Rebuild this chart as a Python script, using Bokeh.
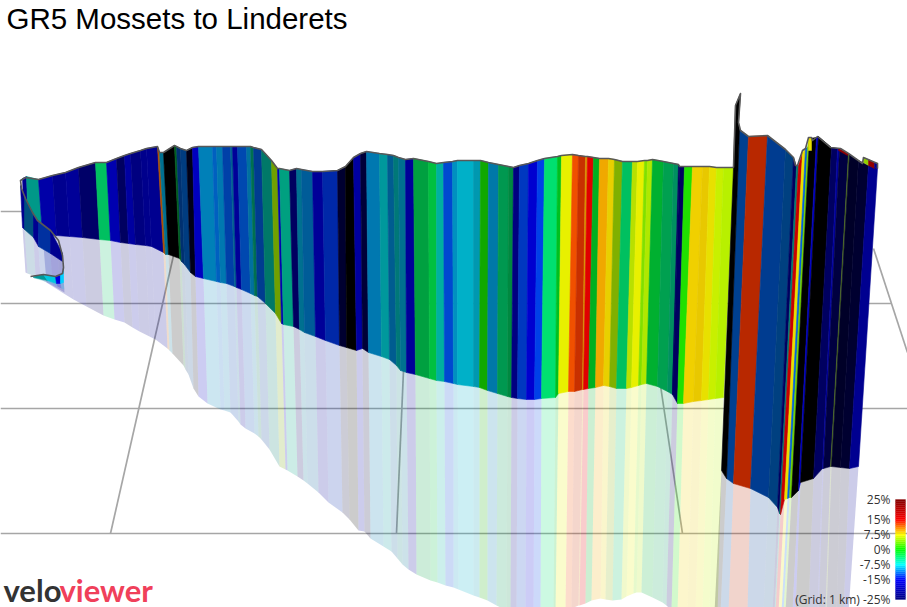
from bokeh.plotting import figure
from bokeh.embed import file_html
from bokeh.resources import INLINE
from bokeh.models import Range1d
from bokeh.core.properties import value
import numpy as np

TITLE = "GR5 Mossets to Linderets"
scale_values = [25, 15, 7.5, 0, -7.5, -15, -25]
scale_labels = ["25%", "15%", "7.5%", "0%", "-7.5%", "-15%", "-25%"]
scale_colors = [(128,0,0), (255,0,0), (255,255,0), (0,255,0), (0,255,255), (0,0,255), (0,0,128)]

# main ribbon: one entry per strip edge (projected screen position)
top_x = [38,52,65,78,95,106,116,124,130,140,146,157,159,163,174,176,180,186,192,198,212,216,222,230,232,237,246,250,253,261,271,277,279,289,296,301,312,322,337,345,353,360,366,379,387,393,398,405,413,428,436,443,452,457,473,480,488,498,508,513,519,528,537,544,557,561,572,578,585,587,593,599,608,614,622,632,637,644,647,652,663,673,678,679,684,692,702,709,716,723,733]
top_y = [179,175,172,167,162,162,158,155,153,150,148,146,152,152,145,146,148,150,147,146,146,146,146,146,146,146,146,146,147,149,160,168,168,170,168,169,171,171,170,166,157,153,151,153,154,155,157,159,158,161,163,162,161,160,160,160,162,164,166,167,165,163,160,158,156,155,154,155,156,156,157,158,158,159,161,161,161,160,160,159,161,163,164,166,166,166,166,166,167,167,167]
base_x = [42,56,69,82,99,110,120,128,135,145,151,163,165,168,179,181,184,190,195,203,216,220,226,234,236,241,250,254,257,265,275,281,283,293,299,304,315,325,339,346,356,362,368,381,389,396,400,406,415,429,436,444,453,457,473,479,487,497,507,511,517,526,534,541,555,558,568,574,582,583,588,595,603,609,616,626,631,638,641,646,657,667,672,672,677,683,693,701,708,715,723]
base_y = [234,235,236,237,239,240,242,243,244,245,246,252,254,254,258,261,264,272,276,278,281,282,283,286,287,289,293,295,296,303,313,323,324,326,329,332,336,340,345,347,350,348,352,356,359,365,370,372,374,378,380,381,383,384,386,387,390,393,396,397,398,399,399,398,397,393,391,391,389,389,388,387,385,386,388,388,387,385,384,383,386,391,394,394,403,403,401,400,399,398,397]
shade_x = [46,60,73,86,103,114,124,132,139,149,155,167,169,172,183,185,188,193,198,207,220,224,230,238,240,245,254,258,261,269,279,285,287,297,303,307,318,328,342,349,358,364,370,383,391,397,402,408,416,430,437,445,453,458,473,479,487,496,506,510,516,525,533,540,553,555,565,571,578,579,585,591,600,605,612,621,626,633,636,641,652,662,666,666,671,677,687,695,702,709,717]
shade_y = [282,291,299,306,315,319,322,327,331,336,339,348,350,353,365,369,374,388,396,403,409,410,412,421,424,428,433,436,439,449,466,469,470,476,480,483,492,502,512,519,530,531,538,546,551,558,564,569,574,580,582,585,587,589,595,597,600,605,610,612,615,618,618,617,615,614,610,608,605,605,603,600,598,599,600,599,596,593,592,592,597,602,605,605,610,612,612,612,612,612,612]
strip_colors = ["#0000a8","#00008f","#000098","#000068","#00c060","#0000b0","#000060","#0000a0","#000080","#00008c","#000090","#b05000","#007090","#000000","#006020","#003070","#003c80","#000018","#0000c0","#0080b8","#0060c0","#0078b0","#0040a8","#006090","#000098","#0048b0","#0070a0","#007050","#003c90","#007868","#70a000","#0000b0","#00a080","#000060","#007090","#005c98","#000098","#0028a8","#000030","#000000","#0000a0","#000038","#0078b0","#00989c","#005c90","#007878","#007090","#000098","#00a040","#00c040","#00b0a0","#0048d0","#0090c0","#00b0c8","#0098b0","#10a800","#0078a8","#009850","#008840","#000080","#0038c0","#0000d0","#0040e8","#00e070","#00c020","#e8f000","#f05000","#c83000","#d89000","#e00000","#00b020","#f0a800","#e8d000","#80b000","#00c060","#b8e000","#e8f000","#80e000","#b0e800","#00b030","#00a050","#009060","#000060","#000060","#20e000","#f0d000","#e8c800","#e8e000","#c8f000","#b8f000"]

# steep final section
right_top_x = [739,748,767,785,793,796,798,802,805,807,809,816,818,831,837,839,848,849,858,868,877]
right_top_y = [129,136,135,149,157,166,165,152,148,147,138,137,136,147,148,149,153,154,160,165,168]
right_base_x = [726,733,750,768,777,779,780,784,787,789,791,798,800,813,822,823,830,831,840,849,858]
right_base_y = [478,483,488,497,507,513,514,499,498,497,497,490,482,478,468,468,466,466,467,468,466]
right_shade_x = [720,728,747,763,772,774,775,778,781,783,785,792,795,808,817,818,825,826,836,843,848]
right_shade_y = [612]*21
right_colors = ["#004090","#b82800","#003c90","#004080","#000060","#008070","#c80000","#e8e000","#0060e0","#70d000","#000000","#0000c0","#000000","#000060","#0000a0","#000040","#507020","#000028","#000030","#000090"]

# spike where the road doubles back
spike_x = [733,735,740,738,739,726,721]
spike_y = [167,105,93,122,129,478,470]
spike_shade_x = [721,726,720,714]
spike_shade_y = [470,478,612,612]

# back of the start loop
back_top_x = [22,26,38]
back_top_y = [178,176,179]
back_base_x = [24,28,42]
back_base_y = [228,229,234]
back_colors = ["#000090","#009888"]

# front of the start loop
curl_top_x = [20,24,33,38,50,62]
curl_top_y = [185,196,214,221,230,253]
curl_base_x = [22,24,33,38,50,62]
curl_base_y = [227,229,237,246,253,261]
curl_shade_x = [25,27,35,40,52,64]
curl_shade_y = [272,273,276,279,285,292]
curl_colors = ["#000090","#005080","#000090","#0030a0","#000090"]

# first metres of the ride
start_top_x = [33,43,55,60,63]
start_top_y = [276,274,276,275,270]
start_base_x = [33,47,56,60,63]
start_base_y = [277,280,283,283,282]
start_shade_x = [34,48,57,61,64]
start_shade_y = [278,282,286,288,289]
start_colors = ["#009898","#00c8e0","#0000e0","#00d0ff"]

# small pieces of ribbon showing above the wall
ridge_xs = [[808,811,811,808],[838,848,847,838],[863,868,868,863],[868,874,874,868],[874,877,877,874]]
ridge_ys = [[137,137,150,150],[148,153,155,150],[157,159,165,162],[159,162,168,165],[162,163,168,167]]
ridge_colors = ["#e8e000","#900000","#90d000","#900000","#000090"]

# outline
loop_line_x = [30,43,55,62,63,62,58,50,37,32,25,21,20,25,38]
loop_line_y = [276,274,276,273,267,255,240,230,220,212,198,188,180,177,179]
right_line_x = [733,735,740,738,740,748,767,785,793,795,797,802,805,808,811,812,817,830,840,848,862,863,877,877]
right_line_y = [167,105,93,122,130,136,135,149,157,165,165,150,148,137,137,140,136,147,148,153,163,157,163,168]

# ground grid
grid_xs = [[0,24],[0,891],[0,907],[0,907],[173,110],[403,396],[660,682],[873,907]]
grid_ys = [[211,211],[303,303],[408,408],[533,533],[255,533],[370,533],[385,533],[248,352]]

p = figure(width=907, height=607, output_backend="svg", toolbar_location=None,
           x_range=Range1d(0, 907), y_range=Range1d(607, 0),
           min_border=0, outline_line_color=None)
p.axis.visible = False
p.grid.visible = False
p.background_fill_color = "#ffffff"

p.multi_line(grid_xs, grid_ys, line_color="#a6a6a6", line_width=1.7)

def quads(ax, ay, bx, by):
    xs, ys = [], []
    for i in range(len(ax) - 1):
        xs.append([ax[i], ax[i+1], bx[i+1], bx[i]])
        ys.append([ay[i], ay[i+1], by[i+1], by[i]])
    return xs, ys

def wall(ax, ay, bx, by, cols):
    xs, ys = quads(ax, ay, bx, by)
    p.patches(xs, ys, fill_color=cols, line_color=cols, line_width=0.6)

def shade(ax, ay, bx, by, cols):
    xs, ys = quads(ax, ay, bx, by)
    p.patches(xs, ys, fill_color=cols, fill_alpha=0.2, line_color=None)

shade(base_x, base_y, shade_x, shade_y, strip_colors)
shade(right_base_x, right_base_y, right_shade_x, right_shade_y, right_colors)
p.patch(spike_shade_x, spike_shade_y, fill_color="#000000", fill_alpha=0.2, line_color=None)
shade(curl_base_x, curl_base_y, curl_shade_x, curl_shade_y, curl_colors)
shade(start_base_x, start_base_y, start_shade_x, start_shade_y, start_colors)

wall(back_top_x, back_top_y, back_base_x, back_base_y, back_colors)
wall(top_x, top_y, base_x, base_y, strip_colors)
wall(right_top_x, right_top_y, right_base_x, right_base_y, right_colors)
p.patch(spike_x, spike_y, fill_color="#000000", line_color="#000000", line_width=0.6)
p.patches(ridge_xs, ridge_ys, fill_color=ridge_colors, line_color=ridge_colors, line_width=0.5)
wall(curl_top_x, curl_top_y, curl_base_x, curl_base_y, curl_colors)
wall(start_top_x, start_top_y, start_base_x, start_base_y, start_colors)

line_col = "#585858"
p.line(loop_line_x + top_x[1:], loop_line_y + top_y[1:], line_color=line_col, line_width=1.6, line_join="round")
p.line(right_line_x, right_line_y, line_color=line_col, line_width=1.6, line_join="round")

# title
p.text([6], [18], text=[TITLE], text_font=value("Liberation Sans"), text_font_size="29.5px",
       text_color="#000000", text_baseline="middle")

# colour scale
def scale_y(v):
    return 549 - 2 * np.asarray(v, dtype=float)

bar_v = np.arange(-25, 25, 1.0)
rv = scale_values[::-1]
rc = scale_colors[::-1]
bar_cols = []
for v in bar_v + 0.5:
    c = [int(np.interp(v, rv, [k[j] for k in rc])) for j in range(3)]
    bar_cols.append("#%02x%02x%02x" % tuple(c))
p.quad(left=895, right=905, top=scale_y(bar_v + 1), bottom=scale_y(bar_v),
       fill_color=bar_cols, line_color=bar_cols, line_width=0.3)
label_text = scale_labels[:-1] + ["(Grid: 1 km) -25%"]
label_y = list(scale_y(scale_values))
p.text([890]*7, label_y, text=label_text, text_font=value("Open Sans"), text_font_size="12px",
       text_color="#333333", text_align="right", text_baseline="middle")

# logo wordmark
p.text([3], [589], text=["velo"], text_font=value("Lato"), text_font_size="31px", text_font_style=value("bold"),
       text_color="#333333", text_baseline="middle")
p.text([59], [589], text=["viewer"], text_font=value("Lato"), text_font_size="31px", text_font_style=value("bold"),
       text_color="#f0405a", text_baseline="middle")

open("out.html", "w").write(file_html(p, INLINE))
